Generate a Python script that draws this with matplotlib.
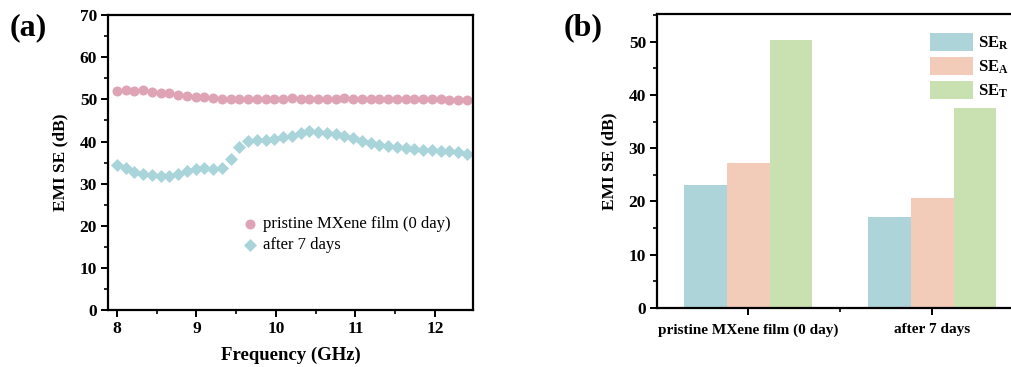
import numpy as np
import matplotlib.pyplot as plt
from matplotlib.ticker import MultipleLocator

plt.rcParams['font.family'] = ['Liberation Serif', 'DejaVu Serif']
plt.rcParams['mathtext.fontset'] = 'custom'
plt.rcParams['mathtext.rm'] = 'Liberation Serif'
plt.rcParams['mathtext.bf'] = 'Liberation Serif:bold'

# panel (a) data
freq = [8.00, 8.11, 8.22, 8.33, 8.44, 8.55, 8.66, 8.77, 8.88, 8.99,
        9.10, 9.21, 9.32, 9.43, 9.54, 9.65, 9.76, 9.87, 9.98, 10.09,
        10.20, 10.31, 10.42, 10.53, 10.64, 10.75, 10.86, 10.97, 11.08, 11.19,
        11.30, 11.41, 11.52, 11.63, 11.74, 11.85, 11.96, 12.07, 12.18, 12.29, 12.40]
pristine = [52.1, 52.3, 52.0, 52.2, 51.7, 51.5, 51.4, 51.0, 50.9, 50.6,
            50.5, 50.3, 50.2, 50.1, 50.0, 50.2, 50.1, 50.0, 50.2, 50.0,
            50.3, 50.1, 50.2, 50.0, 50.1, 50.0, 50.3, 50.2, 50.0, 50.1,
            50.0, 50.2, 50.0, 50.1, 50.0, 50.1, 50.0, 50.0, 49.9, 49.8, 49.9]
after7 = [34.5, 33.6, 32.8, 32.3, 32.0, 31.7, 31.9, 32.2, 32.9, 33.4,
          33.6, 33.5, 33.8, 35.9, 38.6, 40.2, 40.4, 40.3, 40.5, 41.1,
          41.4, 42.1, 42.5, 42.3, 42.0, 41.8, 41.3, 40.8, 40.2, 39.6,
          39.2, 38.9, 38.7, 38.4, 38.2, 38.0, 38.0, 37.8, 37.7, 37.4, 37.1]

# panel (b) data
groups = ['pristine MXene film (0 day)', 'after 7 days']
se_r = [23.1, 17.0]
se_a = [27.3, 20.6]
se_t = [50.4, 37.6]

fig = plt.figure(figsize=(10.11, 3.67), dpi=100)
axa = fig.add_axes([0.107, 0.155, 0.361, 0.804])
axb = fig.add_axes([0.650, 0.161, 0.363, 0.801])

for ax in (axa, axb):
    for s in ax.spines.values():
        s.set_linewidth(1.6)
    ax.tick_params(which='major', direction='out', length=5, width=1.4,
                   labelsize=12.5, pad=3)
    ax.tick_params(which='minor', direction='out', length=3, width=1.2)

# (a)
axa.scatter(freq, pristine, marker='o', s=52, color='#dfa3b6', lw=0,
            label='pristine MXene film (0 day)')
axa.scatter(freq, after7, marker='D', s=44, color='#a9d4da', lw=0,
            label='after 7 days')
axa.set_xlim(7.89, 12.48)
axa.set_ylim(0, 70)
axa.xaxis.set_major_locator(MultipleLocator(1))
axa.xaxis.set_minor_locator(MultipleLocator(0.5))
axa.yaxis.set_major_locator(MultipleLocator(10))
axa.yaxis.set_minor_locator(MultipleLocator(5))
axa.set_xlabel('Frequency (GHz)', fontsize=13.5, fontweight='bold', labelpad=7)
axa.set_ylabel('EMI SE (dB)', fontsize=12.5, fontweight='bold', labelpad=8)
axa.legend(loc='center left', bbox_to_anchor=(0.325, 0.255), frameon=False,
           fontsize=12, handletextpad=0.3, labelspacing=0.3, handlelength=1.0)
for lab in axa.get_xticklabels() + axa.get_yticklabels():
    lab.set_fontweight('bold')

# (b)
x = np.arange(1, len(groups) + 1)
w = 0.232
axb.bar(x - w, se_r, w, color='#acd4d9', label=r'$\mathbf{SE_R}$')
axb.bar(x, se_a, w, color='#f3cbb9', label=r'$\mathbf{SE_A}$')
axb.bar(x + w, se_t, w, color='#c9e0b0', label=r'$\mathbf{SE_T}$')
axb.set_xlim(0.505, 2.5)
axb.set_ylim(0, 55.2)
axb.set_xticks(x)
axb.set_xticklabels(groups, fontsize=11, fontweight='bold')
axb.tick_params(axis='x', which='major', pad=6)
axb.xaxis.set_minor_locator(MultipleLocator(0.5))
axb.yaxis.set_major_locator(MultipleLocator(10))
axb.yaxis.set_minor_locator(MultipleLocator(5))
axb.set_ylabel('EMI SE (dB)', fontsize=12.5, fontweight='bold', labelpad=8)
axb.spines['right'].set_visible(False)
axb.legend(loc='upper right', bbox_to_anchor=(1.0, 0.985), frameon=False,
           fontsize=12, handlelength=2.6, handleheight=1.25, labelspacing=0.3,
           handletextpad=0.3)
for lab in axb.get_yticklabels():
    lab.set_fontweight('bold')

fig.text(0.010, 0.905, '(a)', fontsize=23, fontweight='bold')
fig.text(0.557, 0.905, '(b)', fontsize=23, fontweight='bold')

fig.savefig('out.png', dpi=100)
